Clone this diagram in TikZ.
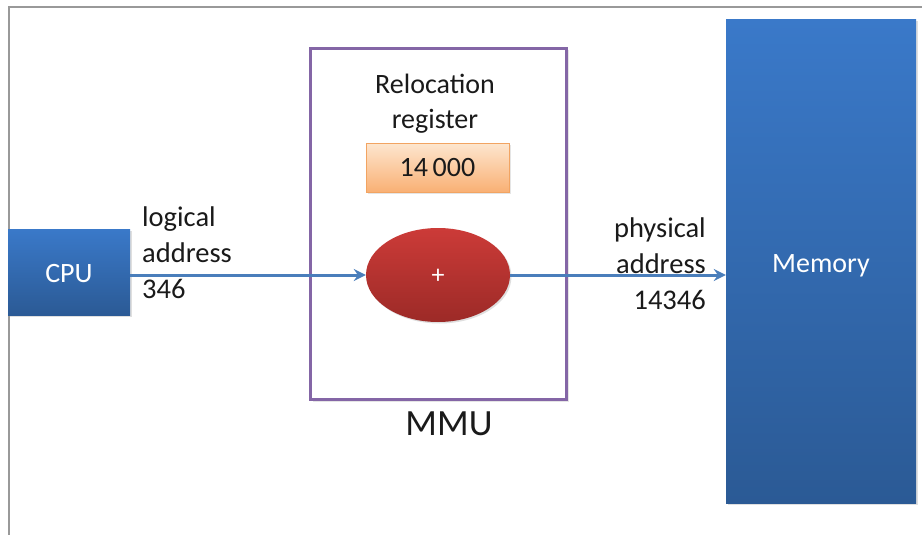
\documentclass[tikz,border=0pt]{standalone}
\usepackage{fontspec}
\setmainfont{Carlito}
\usetikzlibrary{arrows.meta,shapes.geometric,shadows}
\definecolor{blueT}{HTML}{3A79C9}
\definecolor{blueB}{HTML}{2B5A95}
\definecolor{redT}{HTML}{CC3B38}
\definecolor{redB}{HTML}{9C2A27}
\definecolor{orT}{HTML}{FDE6CF}
\definecolor{orB}{HTML}{F9B074}
\definecolor{orD}{HTML}{F2A462}
\definecolor{mmuC}{HTML}{8466A6}
\definecolor{arrC}{HTML}{4A7EBB}
\definecolor{frameC}{HTML}{999999}
\definecolor{txt}{HTML}{1A1A1A}
\tikzset{
  bluebox/.style={rectangle, top color=blueT, bottom color=blueB, draw=none, inner sep=0pt,
    text=white, font=\fontsize{28}{34}\selectfont,
    drop shadow={opacity=0.25, shadow xshift=1.5pt, shadow yshift=-1.5pt}},
  lbl/.style={text=txt, font=\fontsize{28.5}{36}\selectfont, inner sep=0pt},
  conn/.style={draw=arrC, line width=3pt, -{Stealth[length=12pt,width=12pt,inset=4pt]}}
}
\begin{document}
\begin{tikzpicture}[x=1pt,y=-1pt]
\useasboundingbox (0,0) rectangle (922,535);
\fill[white] (0,0) rectangle (922,535);
% frame
\draw[frameC, line width=2pt] (9,535) -- (9,7) -- (922,7);
% MMU box
\node[draw=mmuC, line width=3pt, fill=white, minimum width=256pt, minimum height=351pt,
  drop shadow={opacity=0.2, shadow xshift=2pt, shadow yshift=-2pt}] (mmu) at (438.5,224) {};
\node[text=txt, font=\fontsize{37}{40}\selectfont, inner sep=0pt] (mmulbl) at (449,424) {MMU};
% CPU
\node[bluebox, minimum width=122pt, minimum height=86pt] (cpu) at (69,272) {};
\node[text=white, font=\fontsize{28}{34}\selectfont, inner sep=0pt] (cpulbl) at (69,274) {CPU};
% Memory
\node[bluebox, minimum width=190pt, minimum height=483pt] (mem) at (821,261.5) {};
\node[text=white, font=\fontsize{28}{34}\selectfont, inner sep=0pt] (memlbl) at (821,266) {Memory};
% relocation register
\node[lbl, align=center, font=\fontsize{28}{35}\selectfont] (rr) at (435,104) {Relocation\\register};
\node[rectangle, top color=orT, bottom color=orB, draw=orD, line width=0.8pt,
  minimum width=143pt, minimum height=49pt, inner sep=0pt, text=txt,
  font=\fontsize{28}{34}\selectfont,
  drop shadow={opacity=0.2, shadow xshift=1.5pt, shadow yshift=-1.5pt}] (reg) at (437.5,167.5) {14\,000};
% adder
\node[ellipse, top color=redT, bottom color=redB, draw=none, minimum width=144pt, minimum height=94pt,
  inner sep=0pt,
  drop shadow={opacity=0.25, shadow xshift=1.5pt, shadow yshift=-1.5pt}] (add) at (438,275) {};
\node[text=white, font=\fontsize{26}{26}\selectfont, inner sep=0pt] (plus) at (438,276) {+};
% labels
\node[lbl, align=left, anchor=west] (la) at (142,253) {logical\\address\\346};
\node[lbl, align=right, anchor=east] (pa) at (706,264) {physical\\address\\14346};
% connectors
\draw[conn] (cpu.east |- add.west) -- (add.west);
\draw[conn] (add.east) -- (mem.west |- add.east);
\end{tikzpicture}
\end{document}
